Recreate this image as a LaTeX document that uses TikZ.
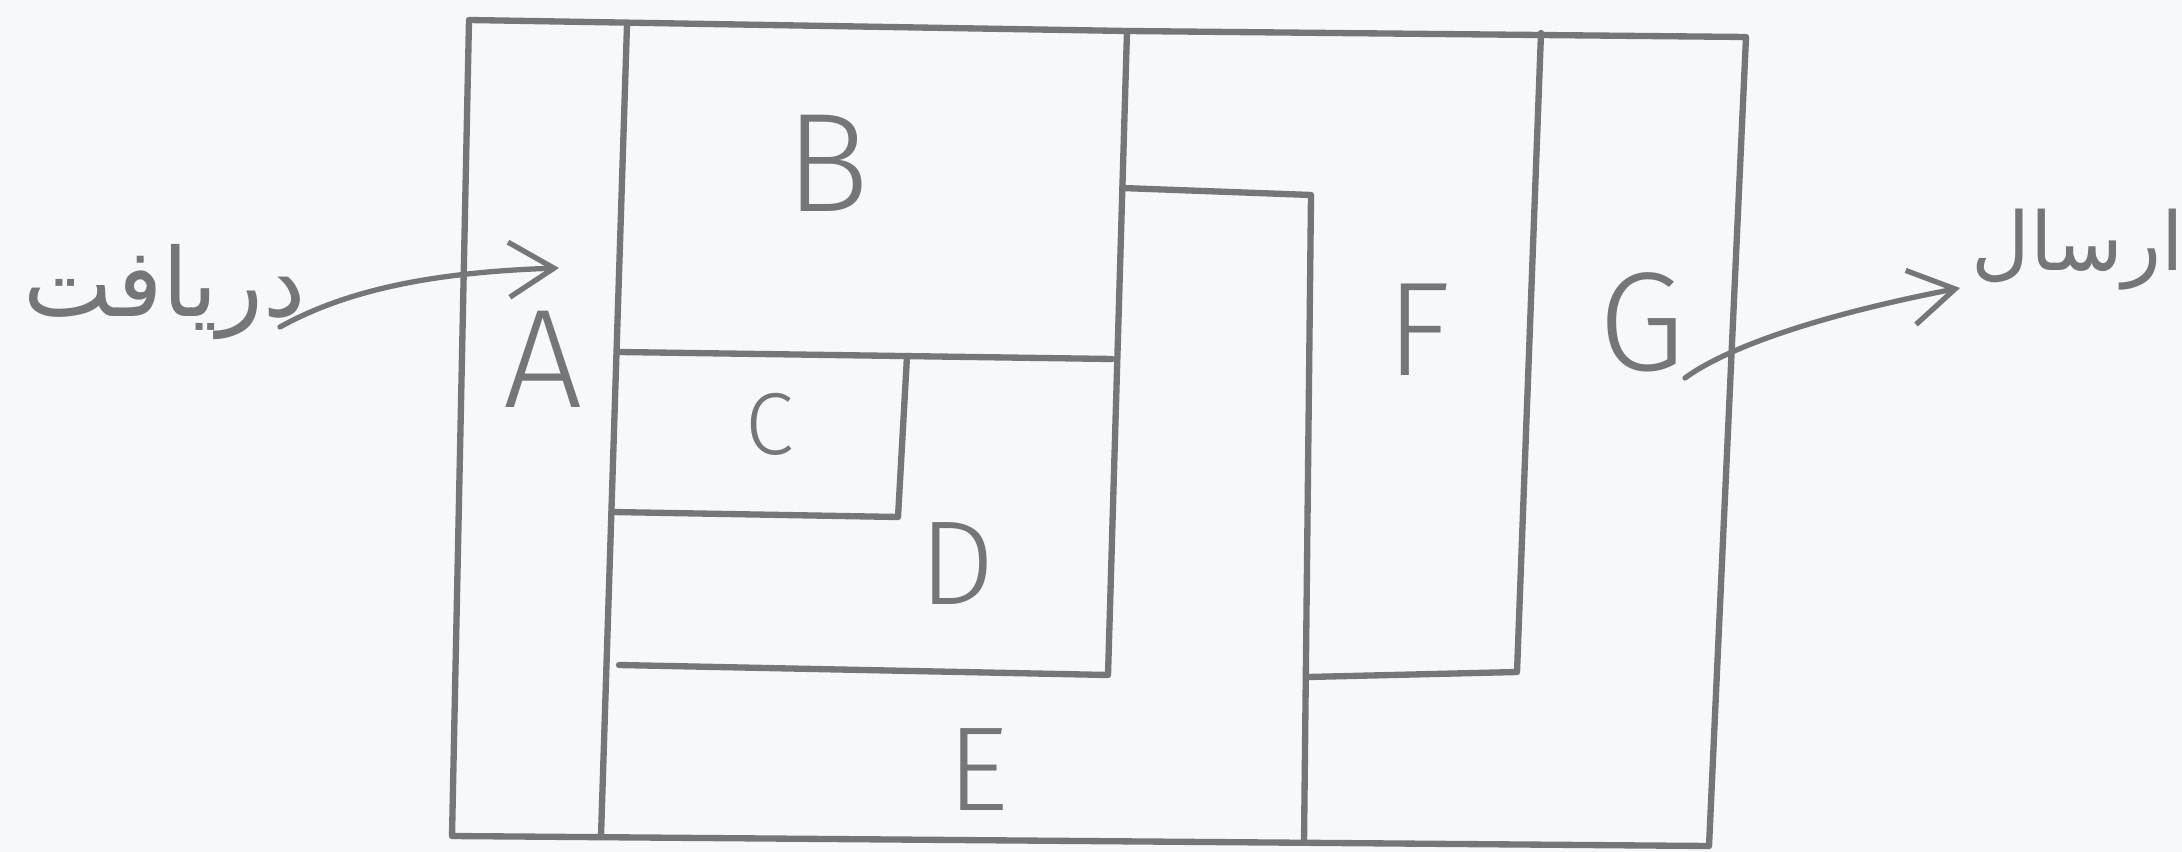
\documentclass[tikz,border=0pt]{standalone}
\usepackage{fontspec}
\setmainfont{Liberation Sans}
\newfontfamily\handfont{Fira Sans}[UprightFont={* Light}]
\newfontfamily\arabicfont[Script=Arabic]{DejaVu Sans}
\TeXXeTstate=1
\usetikzlibrary{arrows.meta}
\definecolor{inkgray}{HTML}{747778}
\definecolor{paper}{HTML}{F5F9F9}
\begin{document}
\begin{tikzpicture}[x=0.01cm,y=-0.01cm,
  wall/.style={draw=inkgray, line width=1.8pt, line cap=round, line join=round},
  flow/.style={draw=inkgray, line width=1.5pt, line cap=round,
    -{Straight Barb[length=4.5mm,width=5.5mm,line width=1.5pt]}},
  roomlabel/.style={text=inkgray, inner sep=0pt, font=\handfont\fontsize{40}{40}\selectfont},
  persian/.style={text=inkgray, inner sep=0pt, font=\arabicfont\fontsize{27}{27}\selectfont}]
\fill[paper] (0,0) rectangle (2182,852);
\useasboundingbox (0,0) rectangle (2182,852);

% outer walls
\draw[wall] (469,20) -- (1127,31) -- (1746,37) -- (1709,846) -- (452,836) -- cycle;
% A | B divider
\draw[wall] (627,25) -- (601,836);
% B right wall and D bottom
\draw[wall] (1127,31) -- (1108,675) -- (619,665);
% B / C,D divider
\draw[wall] (619,352) -- (1112,359);
% C box
\draw[wall] (612,512) -- (898,517) -- (907,356);
% F top and E/F wall
\draw[wall] (1122,188) -- (1311,195) -- (1304,842);
% F / G wall and F bottom
\draw[wall] (1541,33) -- (1517,672) -- (1308,677);

% room labels
\node[roomlabel] (A) at (543,359) {A};
\node[roomlabel, font=\handfont\fontsize{40}{40}\selectfont] (B) at (828,163) {B};
\node[roomlabel, font=\handfont\fontsize{25}{25}\selectfont] (C) at (770,424) {C};
\node[roomlabel, font=\handfont\fontsize{34}{34}\selectfont] (D) at (957,564) {D};
\node[roomlabel, font=\handfont\fontsize{34}{34}\selectfont] (E) at (978,770) {E};
\node[roomlabel, font=\handfont\fontsize{38}{38}\selectfont] (F) at (1419,330) {F};
\node[roomlabel] (G) at (1642,322) {G};

% receive / send
\node[persian] (recv) at (165,292) {\beginR دریافت\endR};
\node[persian, font=\arabicfont\fontsize{23}{23}\selectfont] (send) at (2078,250) {\beginR ارسال\endR};

\coordinate (recvtail) at (280,327);
\coordinate (recvtip) at (559,268);
\coordinate (sendtail) at (1685,378);
\coordinate (sendtip) at (1960,288);
\draw[flow] (recvtail) .. controls (350,288) and (440,272) .. (recvtip);
\draw[flow] (sendtail) .. controls (1730,345) and (1830,313) .. (sendtip);
\end{tikzpicture}
\end{document}
